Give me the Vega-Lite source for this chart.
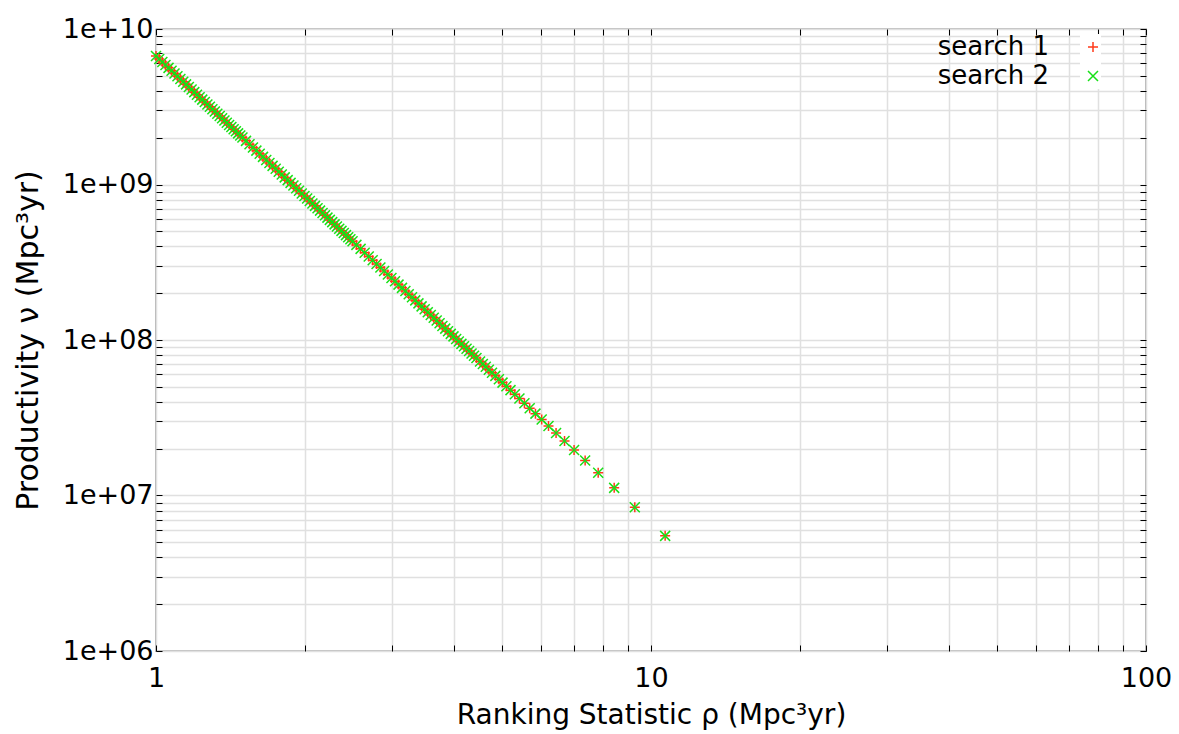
{
  "$schema": "https://vega.github.io/schema/vega-lite/v6.json",
  "width": 990,
  "height": 622,
  "autosize": {"type": "none"},
  "padding": {"left": 156, "top": 29, "right": 33, "bottom": 83},
  "background": "white",
  "config": {
    "font": "DejaVu Sans",
    "view": {"stroke": "#000000", "strokeWidth": 1.2},
    "axis": {"labelColor": "#000000", "titleColor": "#000000", "titleFontWeight": "normal", "tickColor": "#000000", "domain": false}
  },
  "datasets": {
    "pts": [
      {"rho": 1.000, "nu": 6.70e9}, {"rho": 1.015, "nu": 6.407e9}, {"rho": 1.030, "nu": 6.131e9}, {"rho": 1.045, "nu": 5.871e9},
      {"rho": 1.060, "nu": 5.625e9}, {"rho": 1.075, "nu": 5.393e9}, {"rho": 1.090, "nu": 5.174e9}, {"rho": 1.105, "nu": 4.966e9},
      {"rho": 1.120, "nu": 4.769e9}, {"rho": 1.135, "nu": 4.582e9}, {"rho": 1.150, "nu": 4.405e9}, {"rho": 1.165, "nu": 4.237e9},
      {"rho": 1.180, "nu": 4.078e9}, {"rho": 1.195, "nu": 3.926e9}, {"rho": 1.210, "nu": 3.782e9}, {"rho": 1.225, "nu": 3.645e9},
      {"rho": 1.240, "nu": 3.514e9}, {"rho": 1.255, "nu": 3.390e9}, {"rho": 1.270, "nu": 3.271e9}, {"rho": 1.285, "nu": 3.158e9},
      {"rho": 1.300, "nu": 3.050e9}, {"rho": 1.315, "nu": 2.946e9}, {"rho": 1.330, "nu": 2.848e9}, {"rho": 1.345, "nu": 2.754e9},
      {"rho": 1.360, "nu": 2.664e9}, {"rho": 1.375, "nu": 2.577e9}, {"rho": 1.390, "nu": 2.495e9}, {"rho": 1.405, "nu": 2.416e9},
      {"rho": 1.420, "nu": 2.340e9}, {"rho": 1.435, "nu": 2.267e9}, {"rho": 1.450, "nu": 2.198e9}, {"rho": 1.465, "nu": 2.131e9},
      {"rho": 1.480, "nu": 2.067e9}, {"rho": 1.495, "nu": 2.005e9},
      {"rho": 1.520, "nu": 1.908e9}, {"rho": 1.545, "nu": 1.817e9}, {"rho": 1.570, "nu": 1.731e9}, {"rho": 1.595, "nu": 1.651e9},
      {"rho": 1.620, "nu": 1.576e9}, {"rho": 1.645, "nu": 1.505e9}, {"rho": 1.670, "nu": 1.4385e9}, {"rho": 1.695, "nu": 1.376e9},
      {"rho": 1.720, "nu": 1.317e9}, {"rho": 1.745, "nu": 1.261e9}, {"rho": 1.770, "nu": 1.208e9}, {"rho": 1.795, "nu": 1.1585e9},
      {"rho": 1.820, "nu": 1.111e9}, {"rho": 1.845, "nu": 1.0668e9}, {"rho": 1.870, "nu": 1.0246e9}, {"rho": 1.895, "nu": 9.846e8},
      {"rho": 1.920, "nu": 9.466e8}, {"rho": 1.945, "nu": 9.106e8}, {"rho": 1.970, "nu": 8.763e8}, {"rho": 1.995, "nu": 8.438e8},
      {"rho": 2.020, "nu": 8.129e8}, {"rho": 2.045, "nu": 7.834e8}, {"rho": 2.070, "nu": 7.554e8}, {"rho": 2.095, "nu": 7.287e8},
      {"rho": 2.120, "nu": 7.032e8}, {"rho": 2.145, "nu": 6.789e8}, {"rho": 2.170, "nu": 6.557e8}, {"rho": 2.195, "nu": 6.335e8},
      {"rho": 2.220, "nu": 6.124e8}, {"rho": 2.245, "nu": 5.921e8}, {"rho": 2.270, "nu": 5.728e8}, {"rho": 2.295, "nu": 5.543e8},
      {"rho": 2.320, "nu": 5.365e8}, {"rho": 2.345, "nu": 5.196e8}, {"rho": 2.370, "nu": 5.033e8}, {"rho": 2.395, "nu": 4.877e8},
      {"rho": 2.420, "nu": 4.727e8}, {"rho": 2.445, "nu": 4.584e8}, {"rho": 2.470, "nu": 4.446e8}, {"rho": 2.495, "nu": 4.314e8},
      {"rho": 2.54, "nu": 4.089e8}, {"rho": 2.59, "nu": 3.856e8}, {"rho": 2.64, "nu": 3.641e8}, {"rho": 2.69, "nu": 3.442e8},
      {"rho": 2.74, "nu": 3.257e8}, {"rho": 2.79, "nu": 3.085e8}, {"rho": 2.84, "nu": 2.925e8}, {"rho": 2.89, "nu": 2.776e8},
      {"rho": 2.94, "nu": 2.637e8}, {"rho": 2.99, "nu": 2.506e8}, {"rho": 3.04, "nu": 2.385e8}, {"rho": 3.09, "nu": 2.271e8},
      {"rho": 3.14, "nu": 2.164e8}, {"rho": 3.19, "nu": 2.064e8}, {"rho": 3.24, "nu": 1.970e8}, {"rho": 3.29, "nu": 1.881e8},
      {"rho": 3.34, "nu": 1.798e8}, {"rho": 3.39, "nu": 1.720e8}, {"rho": 3.44, "nu": 1.646e8}, {"rho": 3.49, "nu": 1.576e8},
      {"rho": 3.54, "nu": 1.510e8}, {"rho": 3.59, "nu": 1.448e8}, {"rho": 3.64, "nu": 1.389e8}, {"rho": 3.69, "nu": 1.3335e8},
      {"rho": 3.74, "nu": 1.281e8}, {"rho": 3.79, "nu": 1.2307e8}, {"rho": 3.84, "nu": 1.1833e8}, {"rho": 3.89, "nu": 1.1382e8},
      {"rho": 3.94, "nu": 1.0954e8}, {"rho": 3.99, "nu": 1.0548e8}, {"rho": 4.04, "nu": 1.0161e8}, {"rho": 4.09, "nu": 9.793e7},
      {"rho": 4.14, "nu": 9.442e7}, {"rho": 4.19, "nu": 9.108e7}, {"rho": 4.24, "nu": 8.790e7}, {"rho": 4.29, "nu": 8.486e7},
      {"rho": 4.34, "nu": 8.196e7}, {"rho": 4.39, "nu": 7.919e7}, {"rho": 4.44, "nu": 7.655e7},
      {"rho": 4.515, "nu": 7.28e7}, {"rho": 4.574, "nu": 7.00e7}, {"rho": 4.637, "nu": 6.72e7}, {"rho": 4.703, "nu": 6.44e7},
      {"rho": 4.773, "nu": 6.16e7}, {"rho": 4.848, "nu": 5.88e7}, {"rho": 4.928, "nu": 5.60e7}, {"rho": 5.0125, "nu": 5.32e7},
      {"rho": 5.104, "nu": 5.04e7}, {"rho": 5.202, "nu": 4.76e7}, {"rho": 5.308, "nu": 4.48e7}, {"rho": 5.423, "nu": 4.20e7},
      {"rho": 5.55, "nu": 3.92e7}, {"rho": 5.688, "nu": 3.64e7}, {"rho": 5.842, "nu": 3.36e7}, {"rho": 6.014, "nu": 3.08e7},
      {"rho": 6.208, "nu": 2.80e7}, {"rho": 6.43, "nu": 2.52e7}, {"rho": 6.688, "nu": 2.24e7}, {"rho": 6.992, "nu": 1.96e7},
      {"rho": 7.361, "nu": 1.68e7}, {"rho": 7.822, "nu": 1.40e7}, {"rho": 8.426, "nu": 1.12e7}, {"rho": 9.274, "nu": 8.40e6},
      {"rho": 10.68, "nu": 5.50e6}
    ]
  },
  "data": {"name": "pts"},
  "layer": [
    {
      "mark": {"type": "point", "filled": false, "size": 100, "strokeWidth": 1.5, "opacity": 1},
      "encoding": {
        "x": {
          "field": "rho", "type": "quantitative",
          "scale": {"type": "log", "domain": [1, 100], "nice": false},
          "axis": {
            "orient": "bottom",
            "title": "Ranking Statistic ρ (Mpc³yr)",
            "values": [1, 2, 3, 4, 5, 6, 7, 8, 9, 10, 20, 30, 40, 50, 60, 70, 80, 90, 100],
            "labelExpr": "datum.value == 1 || datum.value == 10 || datum.value == 100 ? format(datum.value, 'd') : ''",
            "labelOverlap": false, "labelFlush": false, "labelBound": false,
            "grid": true, "gridColor": "#e0e0e0", "gridWidth": 1.5,
            "tickSize": -6, "tickWidth": 1,
            "labelFontSize": 27, "labelPadding": 20,
            "titleFontSize": 28, "titlePadding": 10
          }
        },
        "y": {
          "field": "nu", "type": "quantitative",
          "scale": {"type": "log", "domain": [1e6, 1e10], "nice": false},
          "axis": {
            "orient": "left",
            "title": "Productivity ν (Mpc³yr)",
            "values": [1e6, 2e6, 3e6, 4e6, 5e6, 6e6, 7e6, 8e6, 9e6, 1e7, 2e7, 3e7, 4e7, 5e7, 6e7, 7e7, 8e7, 9e7, 1e8, 2e8, 3e8, 4e8, 5e8, 6e8, 7e8, 8e8, 9e8, 1e9, 2e9, 3e9, 4e9, 5e9, 6e9, 7e9, 8e9, 9e9, 1e10],
            "labelExpr": "datum.value == 1e6 ? '1e+06' : datum.value == 1e7 ? '1e+07' : datum.value == 1e8 ? '1e+08' : datum.value == 1e9 ? '1e+09' : datum.value == 1e10 ? '1e+10' : ''",
            "labelOverlap": false, "labelFlush": false, "labelBound": false,
            "grid": true, "gridColor": "#e0e0e0", "gridWidth": 1.5,
            "tickSize": -6, "tickWidth": 1,
            "labelFontSize": 27, "labelPadding": 9,
            "titleFontSize": 30, "titlePadding": 19
          }
        },
        "color": {
          "datum": "search 1", "type": "nominal",
          "scale": {"domain": ["search 1", "search 2"], "range": ["#ff3a1a", "#18e018"]},
          "legend": {
            "orient": "none", "legendX": 924, "legendY": 5, "title": null,
            "labelFontSize": 26, "labelAlign": "right", "labelOffset": -57, "labelColor": "#000000",
            "symbolSize": 100, "symbolStrokeWidth": 1.5, "rowPadding": 3, "padding": 0,
            "fillColor": "white"
          }
        },
        "shape": {
          "datum": "search 1", "type": "nominal",
          "scale": {"domain": ["search 1", "search 2"], "range": ["M-1,0L1,0M0,-1L0,1", "M-1,-1L1,1M-1,1L1,-1"]}
        }
      }
    },
    {
      "mark": {"type": "point", "filled": false, "size": 100, "strokeWidth": 1.5, "opacity": 1},
      "encoding": {
        "x": {
          "field": "rho", "type": "quantitative",
          "axis": {
            "orient": "top", "title": null, "labels": false, "grid": false,
            "values": [1, 2, 3, 4, 5, 6, 7, 8, 9, 10, 20, 30, 40, 50, 60, 70, 80, 90, 100],
            "tickSize": -6, "tickWidth": 1
          }
        },
        "y": {
          "field": "nu", "type": "quantitative",
          "axis": {
            "orient": "right", "title": null, "labels": false, "grid": false,
            "values": [1e6, 2e6, 3e6, 4e6, 5e6, 6e6, 7e6, 8e6, 9e6, 1e7, 2e7, 3e7, 4e7, 5e7, 6e7, 7e7, 8e7, 9e7, 1e8, 2e8, 3e8, 4e8, 5e8, 6e8, 7e8, 8e8, 9e8, 1e9, 2e9, 3e9, 4e9, 5e9, 6e9, 7e9, 8e9, 9e9, 1e10],
            "tickSize": -6, "tickWidth": 1
          }
        },
        "color": {"datum": "search 2", "type": "nominal"},
        "shape": {"datum": "search 2", "type": "nominal"}
      }
    }
  ]
}
